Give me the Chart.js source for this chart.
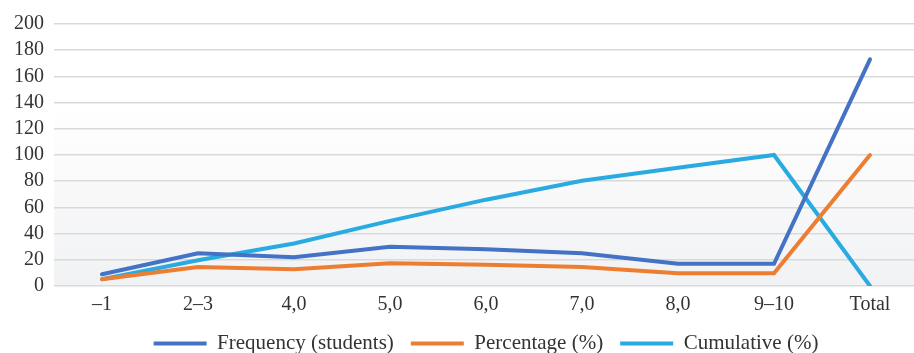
<!DOCTYPE html>
<html>
<head>
<meta charset="utf-8">
<script src="https://cdn.jsdelivr.net/npm/chart.js@4"></script>
<style>
  html, body { margin: 0; padding: 0; background: #fff; overflow: hidden; }
  #wrap { width: 922px; height: 364px; }
</style>
</head>
<body>
<div id="wrap"><canvas id="grafik"></canvas></div>
<script>
// data
const kategori = ['\u20131', '2\u20133', '4,0', '5,0', '6,0', '7,0', '8,0', '9\u201310', 'Total']
const frekuensi = [9, 25, 22, 30, 28, 25, 17, 17, 173]
const persen = [5.2, 14.5, 12.7, 17.3, 16.2, 14.5, 9.8, 9.8, 100]
const kumulatif = [5.2, 19.7, 32.4, 49.7, 65.9, 80.4, 90.2, 100, 0]
const yTicks = [0, 20, 40, 60, 80, 100, 120, 140, 160, 180, 200]

const fontSerif = "'Liberation Serif', 'DejaVu Serif', serif"
Chart.defaults.font.family = fontSerif
Chart.defaults.color = '#333'

// gradient behind the plot area
const latarPlugin = {
  id: 'latar',
  beforeDraw(chart) {
    const ctx = chart.ctx
    const a = chart.chartArea
    const g = ctx.createLinearGradient(0, a.top, 0, a.bottom)
    g.addColorStop(0, '#ffffff')
    g.addColorStop(0.3, '#ffffff')
    g.addColorStop(1, '#f1f2f4')
    ctx.save()
    ctx.fillStyle = g
    ctx.fillRect(a.left, a.top, a.right - a.left, a.bottom - a.top)
    ctx.restore()
  }
}

function seri(label, data, warna) {
  return {
    label: label,
    data: data,
    borderColor: warna,
    backgroundColor: warna,
    borderWidth: 4,
    pointRadius: 0,
    tension: 0,
    borderCapStyle: 'round'
  }
}

const ctx = document.getElementById('grafik').getContext('2d')
new Chart(ctx, {
  type: 'line',
  data: {
    labels: kategori,
    datasets: [
      seri('Frequency (students)', frekuensi, '#4472c4'),
      seri('Percentage (%)', persen, '#ed7d31'),
      seri('Cumulative (%)', kumulatif, '#29abe2')
    ]
  },
  plugins: [latarPlugin],
  options: {
    responsive: true,
    maintainAspectRatio: false,
    animation: false,
    layout: { padding: { top: 24, left: 4, right: 4, bottom: 0 } },
    plugins: {
      legend: {
        position: 'bottom',
        fullSize: false,
        labels: {
          usePointStyle: true,
          pointStyle: 'line',
          pointStyleWidth: 53,
          boxHeight: 4,
          padding: 17,
          font: { size: 21 },
          color: '#333'
        }
      },
      tooltip: { enabled: false }
    },
    scales: {
      x: {
        offset: true,
        grid: { display: false },
        border: { display: false },
        ticks: { font: { size: 20 }, color: '#333', padding: -1, maxRotation: 0, autoSkip: false }
      },
      y: {
        min: 0,
        max: 200,
        afterBuildTicks(axis) {
          axis.ticks = yTicks.map(v => ({ value: v }))
        },
        grid: { color: '#d9d9d9', lineWidth: 1.5, drawTicks: false },
        border: { display: false },
        ticks: { font: { size: 20 }, color: '#333', padding: 10, autoSkip: false }
      }
    }
  }
})
</script>
</body>
</html>
